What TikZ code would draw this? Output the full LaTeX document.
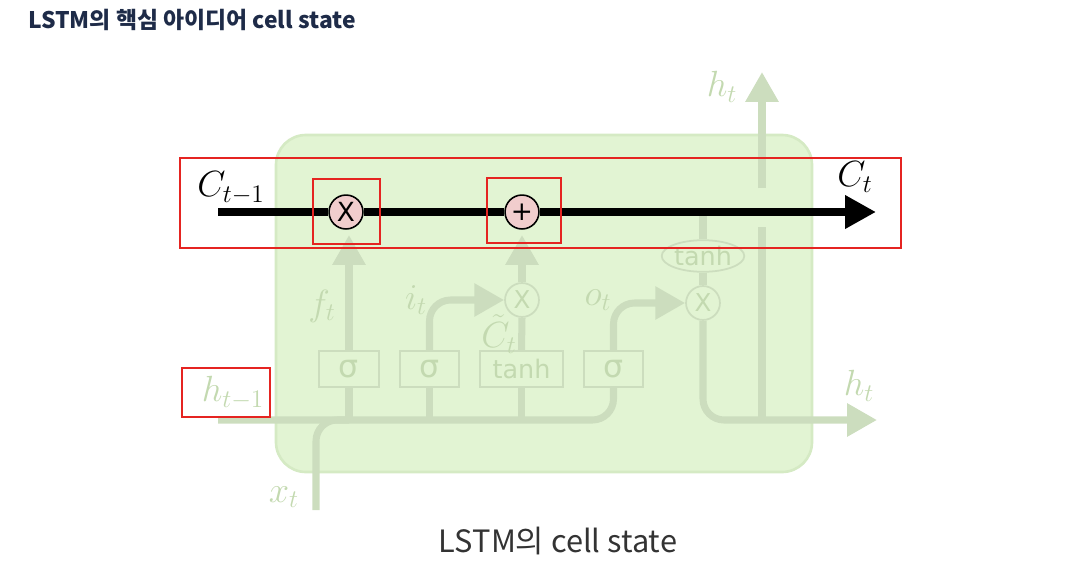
\documentclass[tikz,border=0pt]{standalone}
\usepackage{fontspec}
\newfontfamily\krfont{Noto Sans CJK KR}
\newfontfamily\gatefont{DejaVu Sans}
\usetikzlibrary{arrows.meta,shapes.geometric}
\definecolor{cellfill}{HTML}{E2F4D3}
\definecolor{celledge}{HTML}{D5EAC4}
\definecolor{faded}{HTML}{CCDDBE}
\definecolor{fadedtext}{HTML}{C3D9B0}
\definecolor{markred}{HTML}{E52421}
\definecolor{oppink}{HTML}{F1CDCD}
\definecolor{titleblue}{HTML}{1E2B48}
\definecolor{captiongray}{HTML}{333333}

\begin{document}
\begin{tikzpicture}[x=0.02cm, y=-0.02cm, every node/.style={inner sep=0pt},
  flow/.style={faded, line width=4pt},
  flowarrow/.style={flow, -{Triangle[length=17pt,width=18pt]}},
  gate/.style={draw=faded, line width=1.2pt, fill=cellfill, text=fadedtext,
    minimum width=34pt, minimum height=20.4pt},
  pointop/.style={circle, draw=faded, line width=1pt, fill=cellfill, minimum size=19.3pt,
    text=fadedtext, font=\gatefont\fontsize{14}{14}\selectfont},
  cellop/.style={circle, draw=black, line width=0.9pt, fill=oppink, minimum size=19.3pt,
    font=\gatefont\fontsize{15}{15}\selectfont},
  redbox/.style={draw=markred, line width=1.2pt},
  fadelbl/.style={text=fadedtext, font=\fontsize{19.5}{22}\selectfont},
  celllbl/.style={font=\fontsize{19.5}{22}\selectfont}]
 \useasboundingbox (0,0) rectangle (1080,572);
 \node[anchor=west, text=titleblue, font=\krfont\bfseries\fontsize{13}{15}\selectfont] (title) at (28,20) {LSTM의 핵심 아이디어 cell state};
 % cell body
 \draw[draw=celledge, fill=cellfill, line width=1.5pt, rounded corners=17pt] (276,135) rectangle (812,472);
 % gates
 \node[gate, font=\gatefont\fontsize{18}{18}\selectfont] (sigf) at (349,369) {σ};
 \node[gate, font=\gatefont\fontsize{18}{18}\selectfont] (sigi) at (429.5,369) {σ};
 \node[gate, minimum width=47pt, font=\gatefont\fontsize{14.5}{14}\selectfont] (tanhi) at (521.5,369) {tanh};
 \node[gate, font=\gatefont\fontsize{18}{18}\selectfont] (sigo) at (613.5,369) {σ};
 \node[pointop] (muli) at (522,300) {X};
 \node[pointop] (mulo) at (703,303) {X};
 \node[ellipse, draw=faded, line width=1pt, minimum width=47pt, minimum height=18pt,
   text=fadedtext, font=\gatefont\fontsize{14.5}{14}\selectfont] (tanhc) at (703,256) {tanh};
 \coordinate (cin) at (218,212);
 \coordinate (cout) at (876,212);
 \coordinate (hin) at (218,420);
 \coordinate (hout) at (877,420);
 \coordinate (xin) at (316,510);
 \coordinate (hsplit) at (762,420);
 \coordinate (gapbot) at (762,227);
 \coordinate (gaptop) at (762,188);
 \coordinate (hup) at (762,72);
 % faded flows
 \draw[flow, rounded corners=12pt] (hin) -| (sigo.south);
 \draw[flow, rounded corners=12pt] (xin) |- (sigf.south |- hin);
 \draw[flow] (sigf.south |- hin) -- (sigf.south);
 \draw[flow] (sigi.south |- hin) -- (sigi.south);
 \draw[flow] (tanhi.south |- hin) -- (tanhi.south);
 \draw[flowarrow] (sigf.north) -- (349,235);
 \draw[flowarrow, rounded corners=12pt] (sigi.north) |- (muli.west);
 \draw[flow] (tanhi.north) -- (muli.south);
 \draw[flowarrow] (muli.north) -- (522,235);
 \draw[flowarrow, rounded corners=12pt] (sigo.north) |- (mulo.west);
 \draw[flow] (tanhc.north |- cin) -- (tanhc.north);
 \draw[flow] (tanhc.south) -- (mulo.north);
 \draw[flowarrow, rounded corners=12pt] (mulo.south) |- (hout);
 \draw[flow] (hsplit) -- (gapbot);
 \draw[flowarrow] (gaptop) -- (hup);
 \node[fadelbl] (ft) at (322,306) {$f_t$};
 \node[fadelbl] (it) at (416,300) {$i_t$};
 \node[fadelbl] (ctil) at (499,334) {$\tilde{C}_t$};
 \node[fadelbl] (ot) at (598,300) {$o_t$};
 \node[fadelbl] (htr) at (859,386) {$h_t$};
 \node[fadelbl] (htu) at (722,87) {$h_t$};
 \node[fadelbl] (xt) at (284,497) {$x_t$};
 \node[fadelbl] (hprev) at (233,393) {$h_{t-1}$};
 % cell state
 \node[cellop] (mulf) at (346,212) {X};
 \node[cellop] (add) at (522,212) {+};
 \draw[line width=4.8pt] (cin) -- (mulf.west) (mulf.east) -- (add.west);
 \draw[line width=4.8pt, -{Triangle[length=17.6pt,width=18pt]}] (add.east) -- (cout);
 \node[celllbl] (cprev) at (231,188) {$C_{t-1}$};
 \node[celllbl] (cnext) at (855,177) {$C_t$};
 % highlights
 \draw[redbox] (180,158) rectangle (901,248);
 \draw[redbox] (313,179) rectangle (380,244);
 \draw[redbox] (487,178) rectangle (561,243);
 \draw[redbox] (182,368) rectangle (270,417);
 \node[text=captiongray, font=\krfont\fontsize{17.5}{20}\selectfont] (caption) at (558,541) {LSTM의 cell state};
\end{tikzpicture}
\end{document}
